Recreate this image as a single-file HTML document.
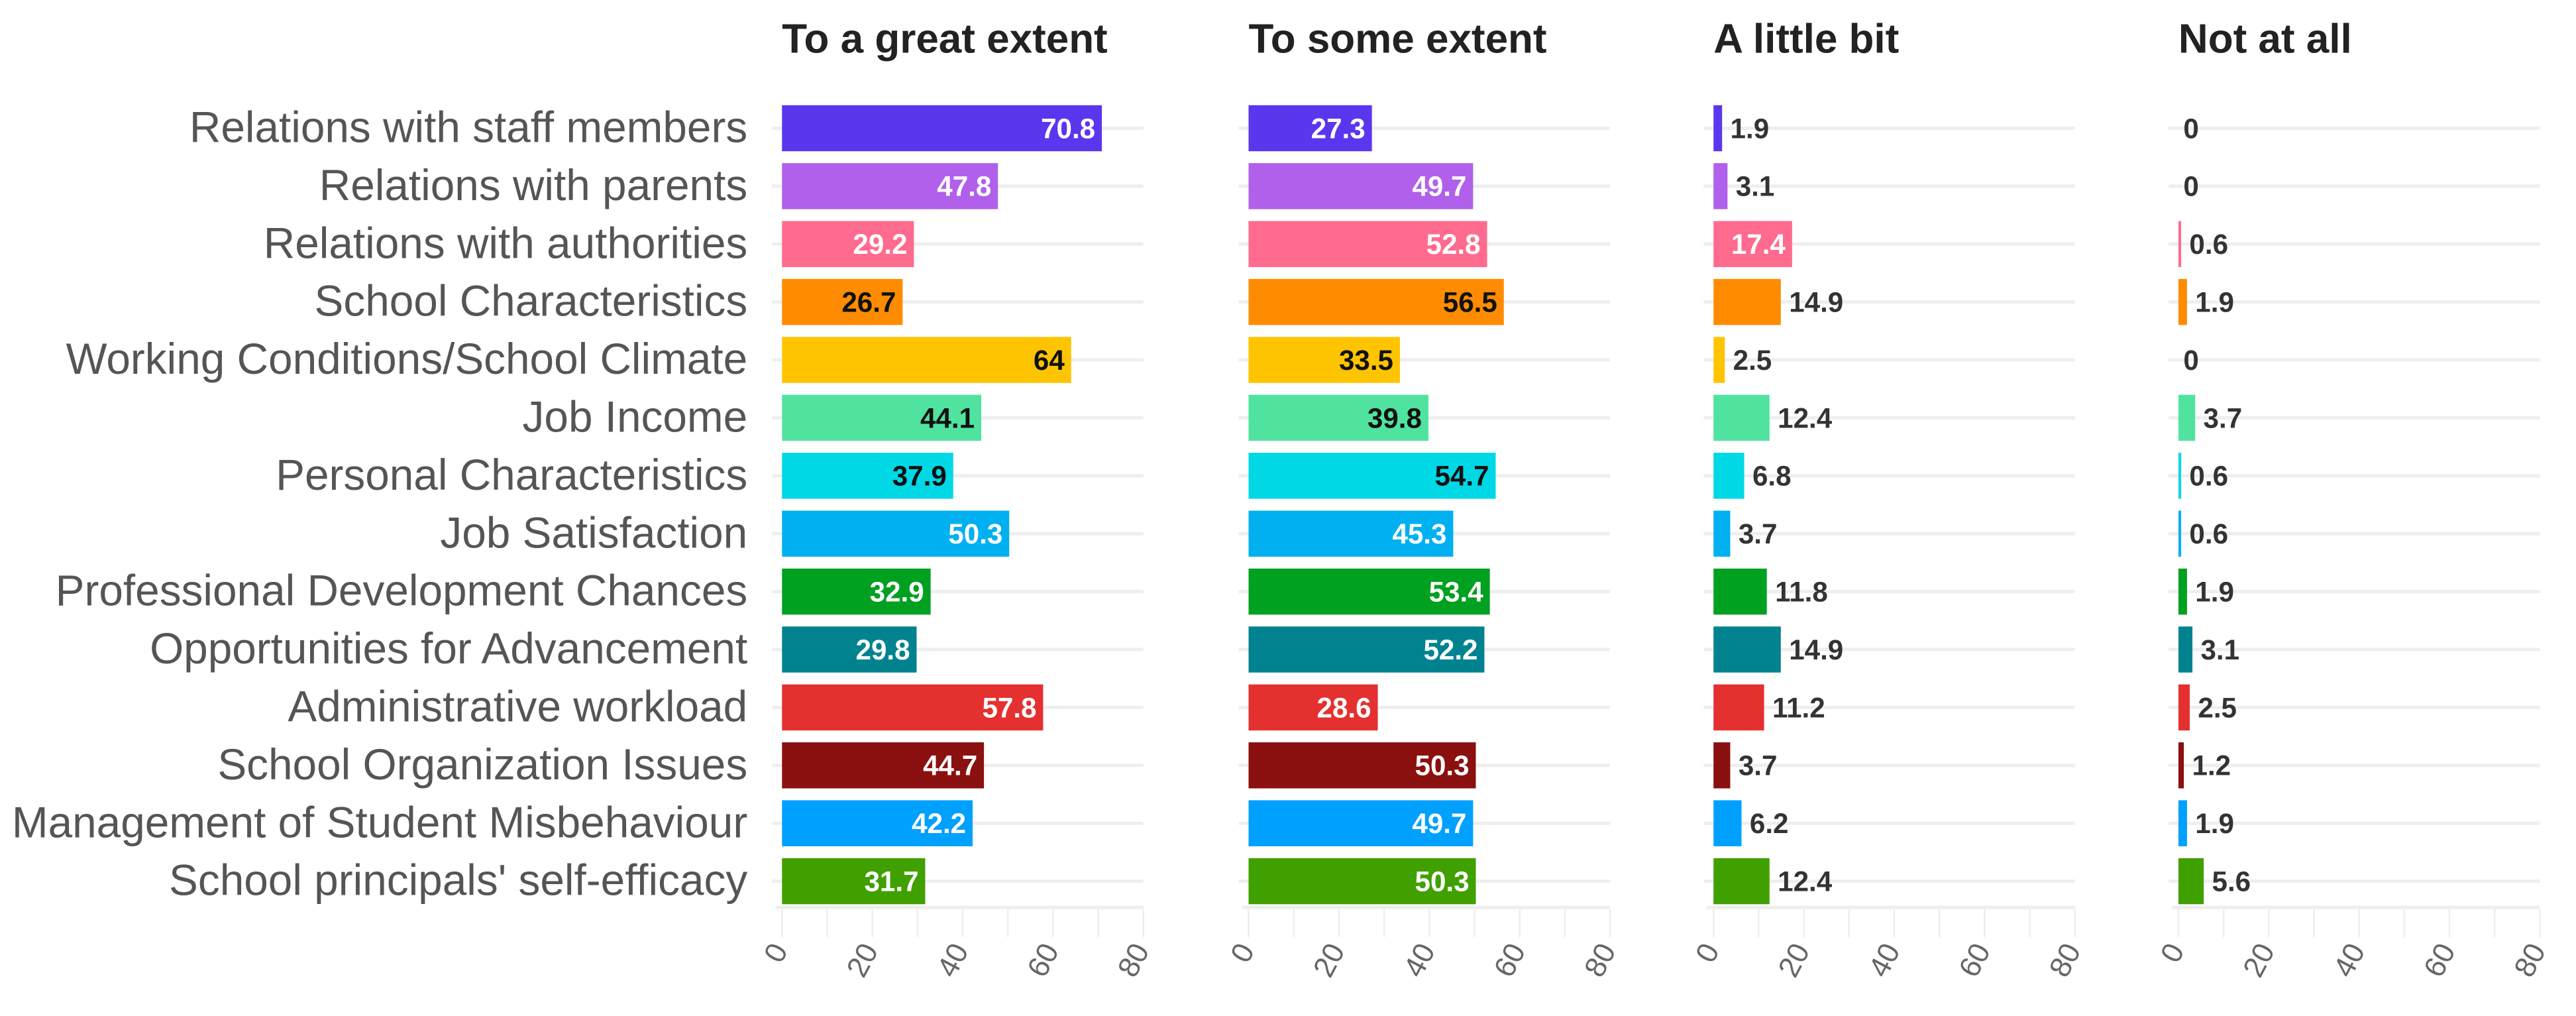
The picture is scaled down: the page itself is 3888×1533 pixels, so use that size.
<!DOCTYPE html>
<html><head><meta charset="utf-8"><style>
html,body{margin:0;padding:0;background:#fff;}
svg{display:block;}
</style></head><body>
<svg id="chart" width="3888" height="1533" viewBox="0 0 1568 618" preserveAspectRatio="none" xmlns="http://www.w3.org/2000/svg" font-family="'Liberation Sans', sans-serif"></svg>
<script>
const categories = ["Relations with staff members","Relations with parents","Relations with authorities","School Characteristics","Working Conditions/School Climate","Job Income","Personal Characteristics","Job Satisfaction","Professional Development Chances","Opportunities for Advancement","Administrative workload","School Organization Issues","Management of Student Misbehaviour","School principals' self-efficacy"];
const panelTitles = ["To a great extent","To some extent","A little bit","Not at all"];
const greatExtent = [70.8,47.8,29.2,26.7,64,44.1,37.9,50.3,32.9,29.8,57.8,44.7,42.2,31.7];
const someExtent = [27.3,49.7,52.8,56.5,33.5,39.8,54.7,45.3,53.4,52.2,28.6,50.3,49.7,50.3];
const littleBit = [1.9,3.1,17.4,14.9,2.5,12.4,6.8,3.7,11.8,14.9,11.2,3.7,6.2,12.4];
const notAtAll = [0,0,0.6,1.9,0,3.7,0.6,0.6,1.9,3.1,2.5,1.2,1.9,5.6];
const tickValues = [0,20,40,60,80];
const colors = ["#5b36ef","#b060ea","#ff6b8e","#ff8c00","#ffc400","#50e3a0","#00d8e6","#00b0f0","#00a020","#00838f","#e53030","#8b1010","#00a0ff","#40a000"];
const darkText = [false,false,false,true,true,true,true,false,false,false,false,false,false,false];

const NS="http://www.w3.org/2000/svg";
const svg=document.getElementById('chart');
function mk(tag,attrs,parent){const e=document.createElementNS(NS,tag);for(const k in attrs)e.setAttribute(k,attrs[k]);(parent||svg).appendChild(e);return e;}
const series=[greatExtent,someExtent,littleBit,notAtAll];
const panelX0=[476,760,1043,1326];
const panelW=220, xMax=80;
const rowY0=78, rowStep=(536-78)/13, barH=28;
function yPos(i){return rowY0+i*rowStep;}
function xScale(p,v){return panelX0[p]+v/xMax*panelW;}

categories.forEach((c,i)=>{
  const t=mk('text',{x:455,y:yPos(i)+8.5,'text-anchor':'end','font-size':26.5,fill:'#555'});
  
  
  t.textContent=c;
});

series.forEach((vals,p)=>{
  const g=mk('g',{});
  
  
  const title=mk('text',{x:panelX0[p],y:32,'font-size':25,'font-weight':'bold',fill:'#222'},g);
  
  
  title.textContent=panelTitles[p];
  for(let v=0;v<=80;v+=10){
    const l=mk('line',{x1:xScale(p,v),x2:xScale(p,v),y1:553,y2:570,stroke:'#eee','stroke-width':1},g);
    
    
  }
  const base=mk('line',{x1:panelX0[p]-4,x2:panelX0[p]+panelW,y1:552,y2:552,stroke:'#eee','stroke-width':2},g);
  
  
  tickValues.forEach(v=>{
    const x=xScale(p,v);
    const t=mk('text',{x:x+4,y:578,'text-anchor':'end','font-size':18,fill:'#666',transform:`rotate(-62 ${x+4} 578)`},g);
    
    
    t.textContent=v;
  });
  vals.forEach((v,i)=>{
    const y=yPos(i);
    const gl=mk('line',{x1:panelX0[p]-6,x2:panelX0[p]+panelW,y1:y,y2:y,stroke:'#eee','stroke-width':2},g);
    
    
    const w=xScale(p,v)-panelX0[p];
    const r=mk('rect',{x:panelX0[p],y:y-barH/2,width:w,height:barH,fill:colors[i]},g);
    
    
    const inside=v>15;
    const t=mk('text',{'font-size':17,'font-weight':'bold',y:y+6},g);
    if(inside){t.setAttribute('x',xScale(p,v)-4);t.setAttribute('text-anchor','end');t.setAttribute('fill',darkText[i]?'#111':'#fff');}
    else{t.setAttribute('x',xScale(p,v)+(v>0?5:3));t.setAttribute('fill','#333');}
    
    
    t.textContent=v;
  });
});
</script>
</body></html>
